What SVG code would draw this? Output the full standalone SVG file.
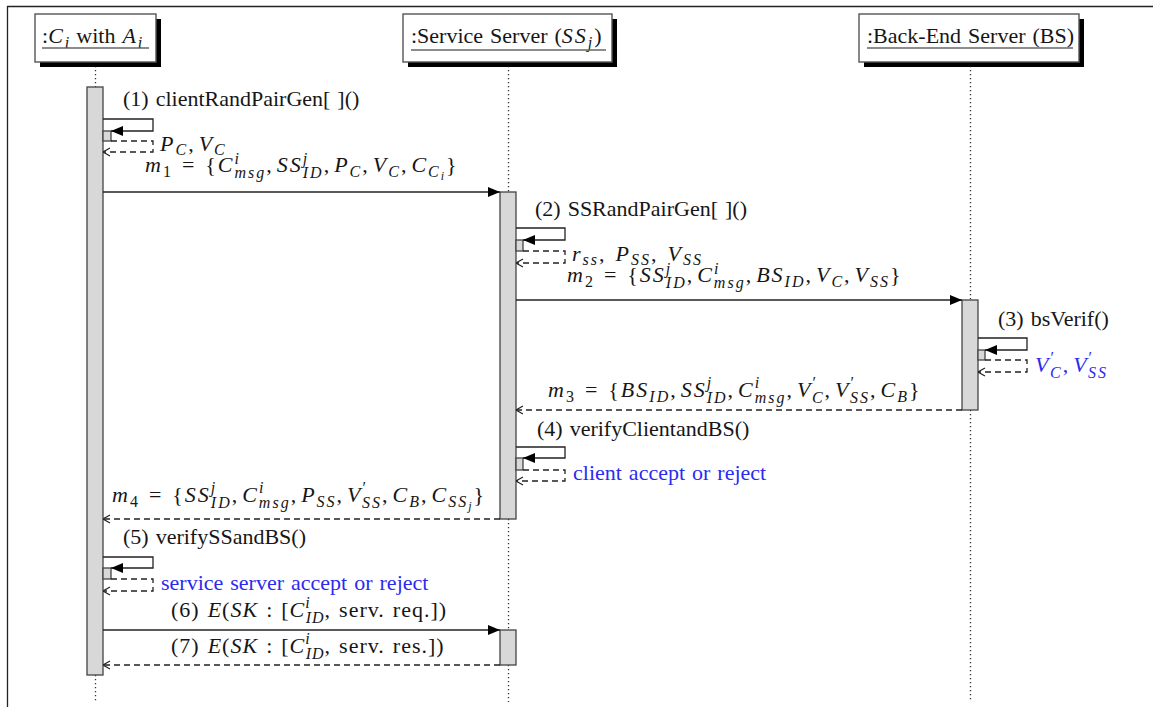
<svg xmlns="http://www.w3.org/2000/svg" width="1153" height="707" viewBox="0 0 1153 707">
<style>
.t{font-family:"Liberation Serif","Times New Roman",serif;font-size:22px;fill:#161616;word-spacing:1.5px}
.i{font-style:italic}
.s{font-size:16px}
.ss{font-size:12px}
.m{letter-spacing:2px}
.n{letter-spacing:1px}
.b{fill:#2b2bf0}
.box{fill:#fff;stroke:#555;stroke-width:1.4}
.sh{fill:#000}
.ul{stroke:#666;stroke-width:1.6}
.life{stroke:#333;stroke-width:1.3;stroke-dasharray:1.3 2.7;fill:none}
.bar{fill:#d8d8d8;stroke:#444;stroke-width:1.3}
.msg{stroke:#222;stroke-width:1.3;fill:none}
.ret{stroke:#222;stroke-width:1.3;fill:none;stroke-dasharray:6 4}
</style>
<defs>
<marker id="fa" markerWidth="12" markerHeight="10" refX="12" refY="5" orient="auto" markerUnits="userSpaceOnUse"><path d="M0,0 L12,5 L0,10 z" fill="#000"/></marker>
<marker id="oa" markerWidth="8" markerHeight="10" refX="7.5" refY="5" orient="auto" markerUnits="userSpaceOnUse"><path d="M0.5,1 L7.5,5 L0.5,9" fill="none" stroke="#222" stroke-width="1.1"/></marker>
</defs>
<g id="frame">
<line x1="7" y1="6.5" x2="1153" y2="6.5" stroke="#222" stroke-width="1.3"/>
<line x1="7.5" y1="6" x2="7.5" y2="707" stroke="#222" stroke-width="1.3"/>
</g>
<g id="lifelines">
<line class="life" x1="95.5" y1="62" x2="95.5" y2="87"/>
<line class="life" x1="95.5" y1="675" x2="95.5" y2="702"/>
<line class="life" x1="508.5" y1="62" x2="508.5" y2="192"/>
<line class="life" x1="508.5" y1="519" x2="508.5" y2="630"/>
<line class="life" x1="508.5" y1="665" x2="508.5" y2="702"/>
<line class="life" x1="970.5" y1="62" x2="970.5" y2="300"/>
<line class="life" x1="970.5" y1="410" x2="970.5" y2="702"/>
</g>
<g id="node-client">
<rect class="sh" x="40" y="19" width="121" height="48"/>
<rect class="box" x="35" y="14" width="121" height="48"/>
<text class="t" x="42" y="43">:<tspan class="i m">C</tspan><tspan class="s i" dy="5">i</tspan><tspan dy="-5"> with </tspan><tspan class="i m">A</tspan><tspan class="s i" dy="5">i</tspan></text>
<line class="ul" x1="42" y1="48" x2="149" y2="48"/>
</g>
<g id="node-ss">
<rect class="sh" x="408" y="19" width="209" height="48"/>
<rect class="box" x="403" y="14" width="209" height="48"/>
<text class="t" x="411" y="43">:Service Server (<tspan class="i m">SS</tspan><tspan class="s i" dy="5">j</tspan><tspan dx="2" dy="-5">)</tspan></text>
<line class="ul" x1="411" y1="50" x2="606" y2="50"/>
</g>
<g id="node-bs">
<rect class="sh" x="864" y="19" width="220" height="48"/>
<rect class="box" x="859" y="14" width="220" height="48"/>
<text class="t" x="867" y="43">:Back-End Server (BS)</text>
<line class="ul" x1="867" y1="48" x2="1073" y2="48"/>
</g>
<g id="activations">
<rect class="bar" x="87" y="87" width="16" height="588"/>
<rect class="bar" x="500" y="192" width="16" height="327"/>
<rect class="bar" x="500" y="630" width="16" height="35"/>
<rect class="bar" x="962" y="300" width="16" height="110"/>
<rect class="bar" x="103" y="131" width="8" height="10"/>
<rect class="bar" x="516" y="240" width="7" height="11"/>
<rect class="bar" x="978" y="350" width="7" height="10"/>
<rect class="bar" x="516" y="458" width="7" height="12"/>
<rect class="bar" x="103" y="568" width="8" height="11"/>
</g>
<g id="connectors">
<path class="msg" d="M103,119 H153 V131 H111" marker-end="url(#fa)"/>
<path class="ret" d="M111,141 H153 V152 H103" marker-end="url(#oa)"/>
<line class="msg" x1="103" y1="192" x2="500" y2="192" marker-end="url(#fa)"/>
<path class="msg" d="M516,228 H565 V240 H523" marker-end="url(#fa)"/>
<path class="ret" d="M523,251 H565 V263 H516" marker-end="url(#oa)"/>
<line class="msg" x1="516" y1="300" x2="962" y2="300" marker-end="url(#fa)"/>
<path class="msg" d="M978,338 H1027 V350 H985" marker-end="url(#fa)"/>
<path class="ret" d="M985,360 H1027 V372 H978" marker-end="url(#oa)"/>
<line class="ret" x1="962" y1="410" x2="516" y2="410" marker-end="url(#oa)"/>
<path class="msg" d="M516,447 H565 V458 H523" marker-end="url(#fa)"/>
<path class="ret" d="M523,470 H565 V481 H516" marker-end="url(#oa)"/>
<line class="ret" x1="500" y1="519" x2="103" y2="519" marker-end="url(#oa)"/>
<path class="msg" d="M103,557 H153 V568 H111" marker-end="url(#fa)"/>
<path class="ret" d="M111,579 H153 V591 H103" marker-end="url(#oa)"/>
<line class="msg" x1="103" y1="630" x2="500" y2="630" marker-end="url(#fa)"/>
<line class="ret" x1="500" y1="665" x2="103" y2="665" marker-end="url(#oa)"/>
</g>
<g id="labels">
<text class="t" x="123" y="106">(1) clientRandPairGen[ ]()</text>
<text class="t m" x="160" y="151"><tspan class="i">P</tspan><tspan class="s i" dy="4">C</tspan><tspan dy="-4">,</tspan><tspan class="i" dx="3">V</tspan><tspan class="s i" dy="4">C</tspan></text>
<text class="t m" x="145" y="172"><tspan class="i">m</tspan><tspan class="s" dy="5">1</tspan><tspan dy="-5"> = {</tspan><tspan class="i">C</tspan><tspan class="s i" dy="-8">i</tspan><tspan class="s i" dx="-6.5" dy="14">msg</tspan><tspan dy="-6">,</tspan><tspan class="i" dx="3">SS</tspan><tspan class="s i" dy="-8">j</tspan><tspan class="s i" dx="-6.5" dy="14">ID</tspan><tspan dy="-6">,</tspan><tspan class="i" dx="3">P</tspan><tspan class="s i" dy="5">C</tspan><tspan dy="-5">,</tspan><tspan class="i" dx="3">V</tspan><tspan class="s i" dy="5">C</tspan><tspan dy="-5">,</tspan><tspan class="i" dx="3">C</tspan><tspan class="s i" dy="5">C</tspan><tspan class="ss i" dy="3">i</tspan><tspan dy="-8">}</tspan></text>
<text class="t" x="535" y="216">(2) SSRandPairGen[ ]()</text>
<text class="t m" x="572" y="261"><tspan class="i">r</tspan><tspan class="s i" dy="4">ss</tspan><tspan dy="-4">, </tspan><tspan class="i">P</tspan><tspan class="s i" dy="4">SS</tspan><tspan dy="-4">, </tspan><tspan class="i">V</tspan><tspan class="s i" dy="4">SS</tspan></text>
<text class="t m" x="567" y="282"><tspan class="i">m</tspan><tspan class="s" dy="5">2</tspan><tspan dy="-5"> = {</tspan><tspan class="i">SS</tspan><tspan class="s i" dy="-8">j</tspan><tspan class="s i" dx="-6.5" dy="14">ID</tspan><tspan dy="-6">,</tspan><tspan class="i" dx="3">C</tspan><tspan class="s i" dy="-8">i</tspan><tspan class="s i" dx="-6.5" dy="14">msg</tspan><tspan dy="-6">,</tspan><tspan class="i" dx="3">BS</tspan><tspan class="s i" dy="5">ID</tspan><tspan dy="-5">,</tspan><tspan class="i" dx="3">V</tspan><tspan class="s i" dy="5">C</tspan><tspan dy="-5">,</tspan><tspan class="i" dx="3">V</tspan><tspan class="s i" dy="5">SS</tspan><tspan dy="-5">}</tspan></text>
<text class="t" x="998" y="326">(3) bsVerif()</text>
<text class="t m b" x="1035" y="372"><tspan class="i">V</tspan><tspan class="s" dy="-9">′</tspan><tspan class="s i" dx="-6" dy="15">C</tspan><tspan dy="-6">,</tspan><tspan class="i" dx="3">V</tspan><tspan class="s" dy="-9">′</tspan><tspan class="s i" dx="-6" dy="15">SS</tspan></text>
<text class="t m" x="548" y="397"><tspan class="i">m</tspan><tspan class="s" dy="5">3</tspan><tspan dy="-5"> = {</tspan><tspan class="i">BS</tspan><tspan class="s i" dy="5">ID</tspan><tspan dy="-5">,</tspan><tspan class="i" dx="3">SS</tspan><tspan class="s i" dy="-9">j</tspan><tspan class="s i" dx="-6.5" dy="15">ID</tspan><tspan dy="-6">,</tspan><tspan class="i" dx="3">C</tspan><tspan class="s i" dy="-9">i</tspan><tspan class="s i" dx="-6.5" dy="15">msg</tspan><tspan dy="-6">,</tspan><tspan class="i" dx="3">V</tspan><tspan class="s" dy="-9">′</tspan><tspan class="s i" dx="-6" dy="15">C</tspan><tspan dy="-6">,</tspan><tspan class="i" dx="3">V</tspan><tspan class="s" dy="-9">′</tspan><tspan class="s i" dx="-6" dy="15">SS</tspan><tspan dy="-6">,</tspan><tspan class="i" dx="3">C</tspan><tspan class="s i" dy="5">B</tspan><tspan dy="-5">}</tspan></text>
<text class="t" x="537" y="436">(4) verifyClientandBS()</text>
<text class="t b" x="573" y="480">client accept or reject</text>
<text class="t m" x="112" y="502"><tspan class="i">m</tspan><tspan class="s" dy="5">4</tspan><tspan dy="-5"> = {</tspan><tspan class="i">SS</tspan><tspan class="s i" dy="-9">j</tspan><tspan class="s i" dx="-6.5" dy="15">ID</tspan><tspan dy="-6">,</tspan><tspan class="i" dx="3">C</tspan><tspan class="s i" dy="-9">i</tspan><tspan class="s i" dx="-6.5" dy="15">msg</tspan><tspan dy="-6">,</tspan><tspan class="i" dx="3">P</tspan><tspan class="s i" dy="5">SS</tspan><tspan dy="-5">,</tspan><tspan class="i" dx="3">V</tspan><tspan class="s" dy="-9">′</tspan><tspan class="s i" dx="-6" dy="15">SS</tspan><tspan dy="-6">,</tspan><tspan class="i" dx="3">C</tspan><tspan class="s i" dy="5">B</tspan><tspan dy="-5">,</tspan><tspan class="i" dx="3">C</tspan><tspan class="s i" dy="5">SS</tspan><tspan class="ss i" dy="3">j</tspan><tspan dy="-8">}</tspan></text>
<text class="t" x="123" y="544">(5) verifySSandBS()</text>
<text class="t b" x="161" y="590">service server accept or reject</text>
<text class="t n" x="171" y="617">(6) <tspan class="i">E</tspan>(<tspan class="i">SK</tspan> : [<tspan class="i">C</tspan><tspan class="s i" dy="-9">i</tspan><tspan class="s i" dx="-5" dy="15">ID</tspan><tspan dy="-6">, serv. req.])</tspan></text>
<text class="t n" x="171" y="653">(7) <tspan class="i">E</tspan>(<tspan class="i">SK</tspan> : [<tspan class="i">C</tspan><tspan class="s i" dy="-9">i</tspan><tspan class="s i" dx="-5" dy="15">ID</tspan><tspan dy="-6">, serv. res.])</tspan></text>
</g>
</svg>
